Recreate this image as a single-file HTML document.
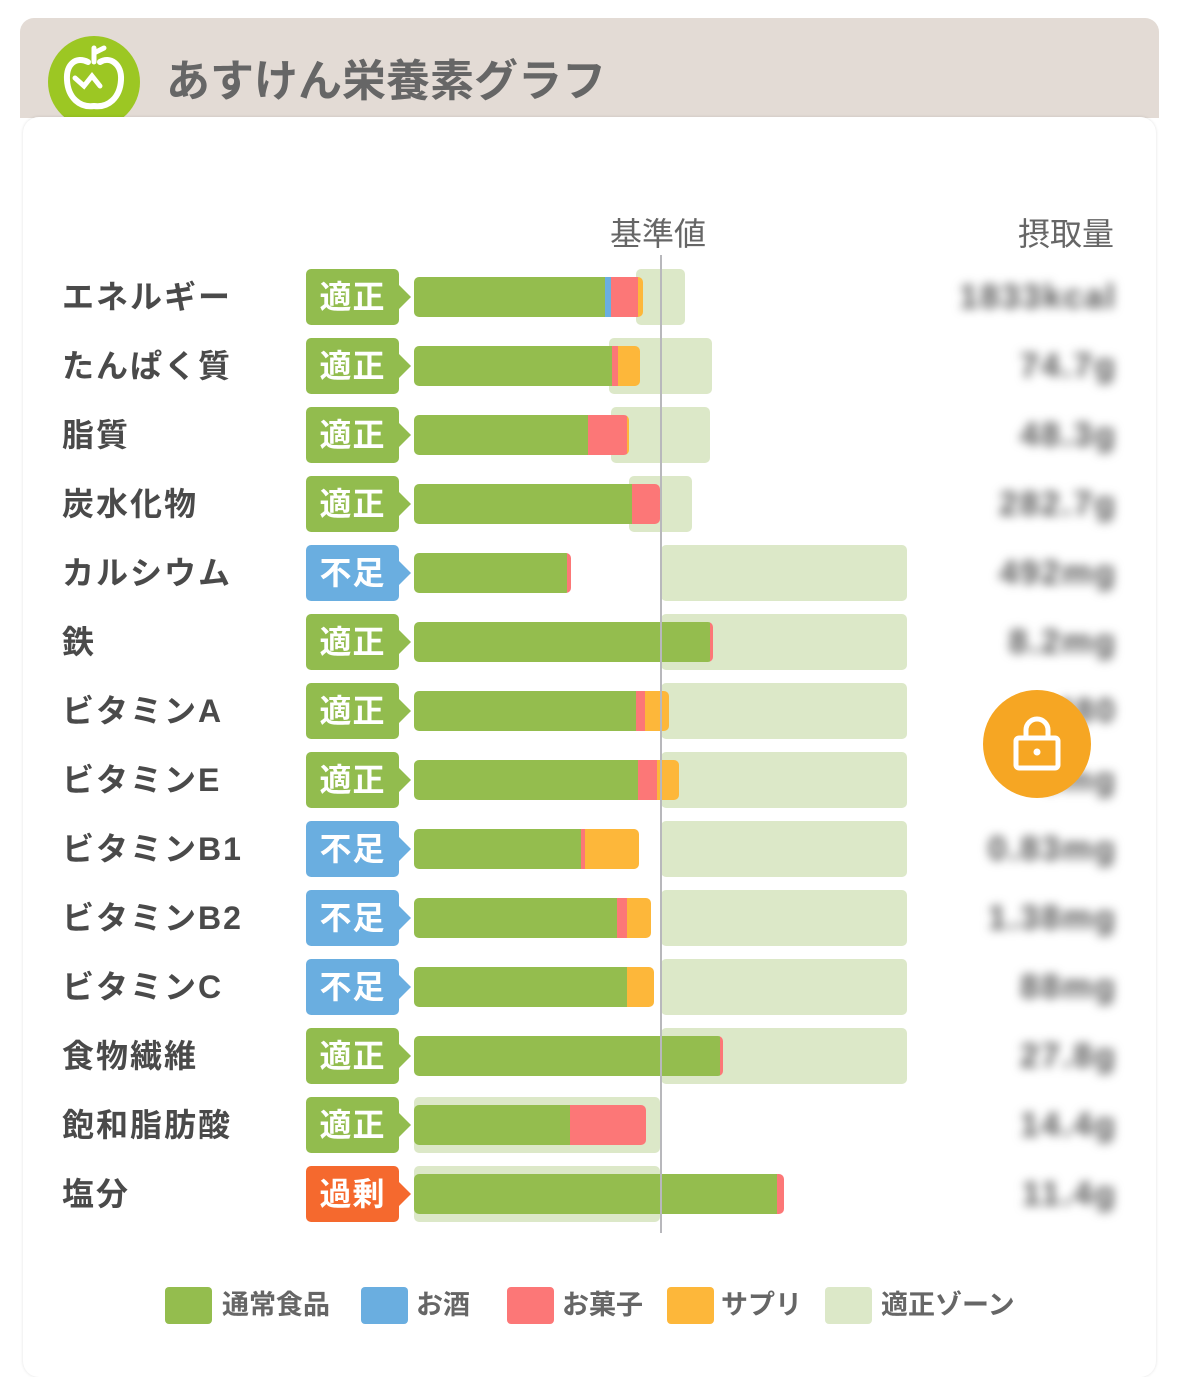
<!DOCTYPE html>
<html><head><meta charset="utf-8"><style>
body{margin:0;width:1179px;height:1362px;background:#fff;position:relative;overflow:hidden;font-family:"Liberation Sans","Noto Sans CJK JP",sans-serif;}
div{position:absolute;box-sizing:border-box}
.hdr{left:20px;top:18px;width:1139px;height:100px;background:#e3dbd5;border-radius:14px 14px 0 0}
.card{left:23px;top:117px;width:1133px;height:1260px;background:#fff;border-radius:16px;box-shadow:0 0 3px rgba(0,0,0,.12)}
.lab{left:62px;font-size:32px;font-weight:bold;color:#4a4a4a;line-height:40px;height:40px;white-space:nowrap;letter-spacing:2px}
.bd{left:306px;width:93px;height:56px;border-radius:5px;color:#fff;font-size:32px;font-weight:bold;line-height:56px;text-align:center;letter-spacing:1px}
.bd:after{content:"";position:absolute;right:-12px;top:16px;border-left:12px solid var(--c);border-top:12px solid transparent;border-bottom:12px solid transparent}
.g{background:#92bc4e;--c:#92bc4e}.b{background:#6aaee0;--c:#6aaee0}.r{background:#f5692e;--c:#f5692e}
.z{background:#dce8c8;border-radius:5px;height:56px}
.s{height:40px}
.G{background:#94bd4e}.B{background:#6aaee0}.P{background:#fc7777}.O{background:#fdb73a}
.v{right:62px;font-size:34px;color:#555;filter:blur(5px);line-height:40px;font-weight:bold;letter-spacing:2px}
.lg{top:1287px;width:47px;height:37px;border-radius:4px}
.lt{top:1287px;font-size:27px;font-weight:bold;color:#666;line-height:37px}
</style></head><body>
<div class="hdr"></div>
<div style="left:48px;top:36px;width:92px;height:92px;border-radius:50%;background:#9cc723"></div>
<svg style="position:absolute;left:48px;top:36px" width="92" height="92"><path d="M40 26 C28 20 18 28 19 44 C20 62 32 72 46 70 C60 72 72 62 73 44 C74 28 62 20 52 26" fill="none" stroke="#fff" stroke-width="6" stroke-linecap="round"/><path d="M46 26 V12 M48 16 L56 12" stroke="#fff" stroke-width="5" stroke-linecap="round"/><path d="M27 42 L36 50 L44 40 L52 50" fill="none" stroke="#fff" stroke-width="5" stroke-linecap="round"/></svg>
<div style="left:166px;top:54px;font-size:44px;font-weight:bold;color:#666;line-height:56px">あすけん栄養素グラフ</div>
<div class="card"></div>
<div style="left:610px;top:214px;font-size:32px;color:#666;line-height:40px">基準値</div>
<div style="left:1018px;top:214px;font-size:32px;color:#666;line-height:40px">摂取量</div>

<div class="z" style="left:636px;top:269px;width:49px"></div>
<div class="z" style="left:609px;top:338px;width:103px"></div>
<div class="z" style="left:611px;top:407px;width:99px"></div>
<div class="z" style="left:629px;top:476px;width:63px"></div>
<div class="z" style="left:661px;top:545px;width:246px"></div>
<div class="z" style="left:661px;top:614px;width:246px"></div>
<div class="z" style="left:661px;top:683px;width:246px"></div>
<div class="z" style="left:661px;top:752px;width:246px"></div>
<div class="z" style="left:661px;top:821px;width:246px"></div>
<div class="z" style="left:661px;top:890px;width:246px"></div>
<div class="z" style="left:661px;top:959px;width:246px"></div>
<div class="z" style="left:661px;top:1028px;width:246px"></div>
<div class="z" style="left:414px;top:1097px;width:246px"></div>
<div class="z" style="left:414px;top:1166px;width:246px"></div>

<div style="left:414px;top:277px;height:40px;display:flex;border-radius:5px;overflow:hidden"><div class="s G" style="position:static;width:191px"></div><div class="s B" style="position:static;width:6px"></div><div class="s P" style="position:static;width:27px"></div><div class="s O" style="position:static;width:5px"></div></div>
<div style="left:414px;top:346px;height:40px;display:flex;border-radius:5px;overflow:hidden"><div class="s G" style="position:static;width:198px"></div><div class="s P" style="position:static;width:6px"></div><div class="s O" style="position:static;width:22px"></div></div>
<div style="left:414px;top:415px;height:40px;display:flex;border-radius:5px;overflow:hidden"><div class="s G" style="position:static;width:174px"></div><div class="s P" style="position:static;width:39px"></div><div class="s O" style="position:static;width:2px"></div></div>
<div style="left:414px;top:484px;height:40px;display:flex;border-radius:5px;overflow:hidden"><div class="s G" style="position:static;width:218px"></div><div class="s P" style="position:static;width:28px"></div></div>
<div style="left:414px;top:553px;height:40px;display:flex;border-radius:5px;overflow:hidden"><div class="s G" style="position:static;width:153px"></div><div class="s P" style="position:static;width:4px"></div></div>
<div style="left:414px;top:622px;height:40px;display:flex;border-radius:5px;overflow:hidden"><div class="s G" style="position:static;width:296px"></div><div class="s P" style="position:static;width:3px"></div></div>
<div style="left:414px;top:691px;height:40px;display:flex;border-radius:5px;overflow:hidden"><div class="s G" style="position:static;width:222px"></div><div class="s P" style="position:static;width:9px"></div><div class="s O" style="position:static;width:24px"></div></div>
<div style="left:414px;top:760px;height:40px;display:flex;border-radius:5px;overflow:hidden"><div class="s G" style="position:static;width:224px"></div><div class="s P" style="position:static;width:19px"></div><div class="s O" style="position:static;width:22px"></div></div>
<div style="left:414px;top:829px;height:40px;display:flex;border-radius:5px;overflow:hidden"><div class="s G" style="position:static;width:167px"></div><div class="s P" style="position:static;width:4px"></div><div class="s O" style="position:static;width:54px"></div></div>
<div style="left:414px;top:898px;height:40px;display:flex;border-radius:5px;overflow:hidden"><div class="s G" style="position:static;width:203px"></div><div class="s P" style="position:static;width:10px"></div><div class="s O" style="position:static;width:24px"></div></div>
<div style="left:414px;top:967px;height:40px;display:flex;border-radius:5px;overflow:hidden"><div class="s G" style="position:static;width:213px"></div><div class="s O" style="position:static;width:27px"></div></div>
<div style="left:414px;top:1036px;height:40px;display:flex;border-radius:5px;overflow:hidden"><div class="s G" style="position:static;width:306px"></div><div class="s P" style="position:static;width:3px"></div></div>
<div style="left:414px;top:1105px;height:40px;display:flex;border-radius:5px;overflow:hidden"><div class="s G" style="position:static;width:156px"></div><div class="s P" style="position:static;width:76px"></div></div>
<div style="left:414px;top:1174px;height:40px;display:flex;border-radius:5px;overflow:hidden"><div class="s G" style="position:static;width:363px"></div><div class="s P" style="position:static;width:7px"></div></div>

<div style="left:660px;top:255px;width:2px;height:978px;background:#b8b8bc"></div>

<div class="lab" style="top:277px">エネルギー</div>
<div class="lab" style="top:346px">たんぱく質</div>
<div class="lab" style="top:415px">脂質</div>
<div class="lab" style="top:484px">炭水化物</div>
<div class="lab" style="top:553px">カルシウム</div>
<div class="lab" style="top:622px">鉄</div>
<div class="lab" style="top:691px">ビタミンA</div>
<div class="lab" style="top:760px">ビタミンE</div>
<div class="lab" style="top:829px">ビタミンB1</div>
<div class="lab" style="top:898px">ビタミンB2</div>
<div class="lab" style="top:967px">ビタミンC</div>
<div class="lab" style="top:1036px">食物繊維</div>
<div class="lab" style="top:1105px">飽和脂肪酸</div>
<div class="lab" style="top:1174px">塩分</div>

<div class="bd g" style="top:269px">適正</div>
<div class="bd g" style="top:338px">適正</div>
<div class="bd g" style="top:407px">適正</div>
<div class="bd g" style="top:476px">適正</div>
<div class="bd b" style="top:545px">不足</div>
<div class="bd g" style="top:614px">適正</div>
<div class="bd g" style="top:683px">適正</div>
<div class="bd g" style="top:752px">適正</div>
<div class="bd b" style="top:821px">不足</div>
<div class="bd b" style="top:890px">不足</div>
<div class="bd b" style="top:959px">不足</div>
<div class="bd g" style="top:1028px">適正</div>
<div class="bd g" style="top:1097px">適正</div>
<div class="bd r" style="top:1166px">過剰</div>

<div class="v" style="top:277px">1833kcal</div>
<div class="v" style="top:346px">74.7g</div>
<div class="v" style="top:415px">48.3g</div>
<div class="v" style="top:484px">282.7g</div>
<div class="v" style="top:553px">492mg</div>
<div class="v" style="top:622px">8.2mg</div>
<div class="v" style="top:691px">480</div>
<div class="v" style="top:760px">6mg</div>
<div class="v" style="top:829px">0.83mg</div>
<div class="v" style="top:898px">1.38mg</div>
<div class="v" style="top:967px">88mg</div>
<div class="v" style="top:1036px">27.8g</div>
<div class="v" style="top:1105px">14.4g</div>
<div class="v" style="top:1174px">11.4g</div>

<div style="left:983px;top:690px;width:108px;height:108px;border-radius:50%;background:#f6a623"></div>
<svg style="position:absolute;left:983px;top:690px" width="108" height="108"><path d="M43 48 V40 A11 11 0 0 1 65 40 V48" fill="none" stroke="#fff" stroke-width="5"/><rect x="33" y="48" width="42" height="30" rx="3" fill="none" stroke="#fff" stroke-width="5"/><circle cx="54" cy="62" r="3.5" fill="#fff"/></svg>

<div class="lg G" style="left:165px"></div><div class="lt" style="left:222px">通常食品</div>
<div class="lg B" style="left:361px"></div><div class="lt" style="left:416px">お酒</div>
<div class="lg P" style="left:507px"></div><div class="lt" style="left:562px">お菓子</div>
<div class="lg O" style="left:667px"></div><div class="lt" style="left:721px">サプリ</div>
<div class="lg" style="left:825px;background:#dce8c8"></div><div class="lt" style="left:881px">適正ゾーン</div>
</body></html>
